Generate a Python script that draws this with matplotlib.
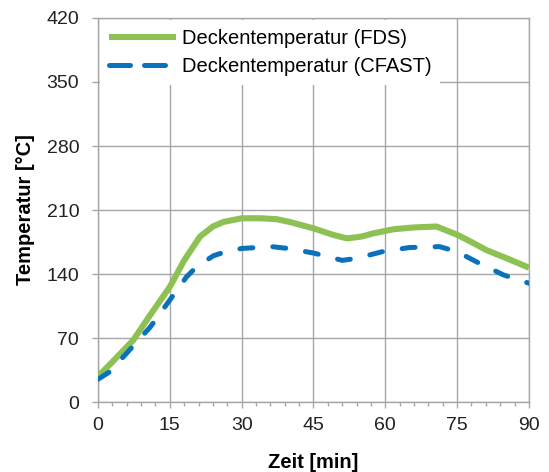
import matplotlib.pyplot as plt
from matplotlib.ticker import MultipleLocator

plt.rcParams['font.family'] = ['Liberation Sans', 'DejaVu Sans']

# Deckentemperatur aus FDS
zeit_fds = [0, 3, 7.4, 11, 15, 18, 21.3, 24, 26.2, 30, 34, 37.3, 40, 45, 49,
            52, 55, 57.5, 61.7, 66, 70.7, 75, 78, 81.2, 85, 90]
temp_fds = [28, 44, 68, 96, 126, 155, 181, 192, 197, 201, 201, 200, 197, 190, 183,
            179, 181, 184.5, 189, 191, 192, 183, 175, 166, 158, 147]

# Deckentemperatur aus CFAST
zeit_cfast = [0, 2.4, 5.9, 10.9, 15, 18.5, 20.6, 24.1, 27, 30, 36.3, 39.7, 45, 51,
              53.8, 59.4, 65, 71.3, 75, 79, 84.7, 90]
temp_cfast = [25, 33, 53, 82, 111.6, 137, 148, 160, 165, 168, 170, 168, 163, 155,
              157, 164.5, 169, 170, 164.5, 153.5, 139, 130]

grau = '#a6a6a6'

fig = plt.figure(figsize=(5.49, 4.72), dpi=100)
ax = fig.add_axes([0.1785, 0.148, 0.785, 0.814])

ax.plot(zeit_fds, temp_fds, color='#8dc153', lw=4.4, solid_capstyle='butt',
        solid_joinstyle='round', label='Deckentemperatur (FDS)', zorder=3)
ax.plot(zeit_cfast, temp_cfast, color='#0a72bb', lw=3.6, dashes=(2.6, 4.0),
        dash_capstyle='round', label='Deckentemperatur (CFAST)', zorder=4)

ax.set_xlim(0, 90)
ax.set_ylim(0, 420)
ax.xaxis.set_major_locator(MultipleLocator(15))
ax.xaxis.set_minor_locator(MultipleLocator(3))
ax.yaxis.set_major_locator(MultipleLocator(70))
ax.grid(True, which='major', color=grau, lw=1)
ax.set_axisbelow(True)
for s in ax.spines.values():
    s.set_color(grau)
    s.set_linewidth(1)
ax.tick_params(which='both', direction='out', color=grau, labelsize=14,
               labelcolor='#222222')
ax.tick_params(which='major', length=4.5, width=1)
ax.tick_params(which='minor', length=3, width=1)
ax.tick_params(axis='x', pad=6)
ax.tick_params(axis='y', pad=9)

ax.set_xlabel('Zeit [min]', fontsize=14.5, fontweight='bold', labelpad=14)
ax.set_ylabel('Temperatur [°C]', fontsize=14.5, fontweight='bold', labelpad=8)

leg = ax.legend(loc='upper left', fontsize=14.5, frameon=True, framealpha=1,
                edgecolor='none', fancybox=False, handlelength=3.3,
                handletextpad=0.3, borderaxespad=0.1, borderpad=0.45,
                labelspacing=0.45)
leg.get_frame().set_facecolor('white')
# kuerzere Luecken im Legendensymbol, damit zwei ganze Striche passen
leg.get_lines()[1].set_dashes((4.2, 2.8))

fig.savefig('out.png', dpi=100)
